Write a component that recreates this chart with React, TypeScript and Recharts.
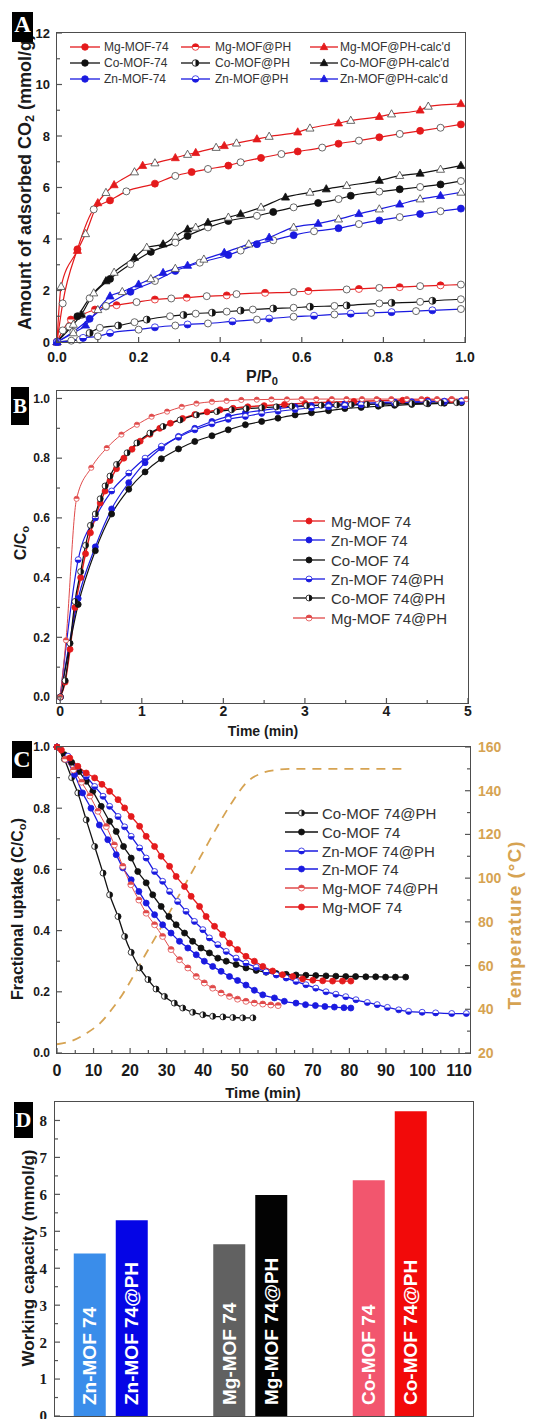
import React from 'react';
import { LineChart, Line, XAxis, YAxis, BarChart, Bar, Cell, LabelList } from 'recharts';

const SANS = '"Liberation Sans", Arial, sans-serif';
const SERIF = '"Liberation Serif", "Times New Roman", serif';
const RED = '#e41a1c';
const LIGHTRED = '#e04a4a';
const BLUE = '#1a1ae0';
const BLACK = '#111111';
const ORANGE = '#d6a352';

// ---------- A: CO2 isotherms, P/P0 vs mmol/g
const aMgP = [0, 0.014, 0.05, 0.09, 0.13, 0.17, 0.24, 0.29, 0.33, 0.37, 0.42, 0.45, 0.5, 0.55, 0.59, 0.65, 0.69, 0.74, 0.79, 0.84, 0.89, 0.94, 0.99];
const aMgV = [0, 1.5, 3.6, 5.15, 5.5, 5.85, 6.15, 6.45, 6.6, 6.72, 6.85, 6.98, 7.15, 7.3, 7.4, 7.55, 7.7, 7.82, 7.95, 8.08, 8.2, 8.32, 8.45];
const aMgPhP = [0, 0.014, 0.034, 0.06, 0.093, 0.12, 0.146, 0.195, 0.24, 0.28, 0.318, 0.367, 0.416, 0.44, 0.51, 0.58, 0.616, 0.71, 0.74, 0.79, 0.84, 0.89, 0.94, 0.99];
const aMgPhV = [0, 0.45, 0.87, 1.05, 1.26, 1.38, 1.43, 1.55, 1.65, 1.69, 1.72, 1.78, 1.81, 1.86, 1.91, 1.94, 1.98, 2.04, 2.06, 2.1, 2.13, 2.17, 2.2, 2.23];
const aMgCalcP = [0, 0.01, 0.05, 0.07, 0.1, 0.12, 0.14, 0.19, 0.21, 0.24, 0.29, 0.32, 0.34, 0.39, 0.41, 0.44, 0.49, 0.52, 0.59, 0.62, 0.69, 0.72, 0.79, 0.82, 0.89, 0.91, 0.99];
const aMgCalcV = [0, 2.15, 3.55, 4.2, 5.4, 5.8, 6.1, 6.6, 6.85, 6.95, 7.15, 7.28, 7.35, 7.55, 7.62, 7.72, 7.88, 7.98, 8.15, 8.3, 8.5, 8.6, 8.75, 8.85, 9.0, 9.15, 9.25];
const aCoP = [0, 0.03, 0.05, 0.08, 0.13, 0.18, 0.23, 0.29, 0.32, 0.37, 0.42, 0.49, 0.53, 0.58, 0.64, 0.69, 0.72, 0.79, 0.84, 0.89, 0.94, 0.99];
const aCoV = [0, 0.6, 1.0, 1.7, 2.45, 3.02, 3.5, 3.86, 4.12, 4.45, 4.7, 4.9, 5.05, 5.23, 5.4, 5.55, 5.68, 5.84, 5.93, 6.02, 6.12, 6.25];
const aCoPhP = [0, 0.056, 0.08, 0.105, 0.15, 0.19, 0.22, 0.277, 0.31, 0.34, 0.38, 0.416, 0.45, 0.48, 0.53, 0.58, 0.62, 0.68, 0.71, 0.79, 0.82, 0.89, 0.92, 0.99];
const aCoPhV = [0, 0.09, 0.35, 0.55, 0.64, 0.77, 0.87, 1.0, 1.05, 1.1, 1.14, 1.18, 1.22, 1.26, 1.3, 1.33, 1.37, 1.4, 1.42, 1.5, 1.52, 1.56, 1.6, 1.66];
const aCoCalcP = [0, 0.04, 0.06, 0.09, 0.12, 0.14, 0.19, 0.22, 0.26, 0.29, 0.32, 0.34, 0.37, 0.42, 0.45, 0.5, 0.56, 0.62, 0.66, 0.71, 0.79, 0.84, 0.89, 0.94, 0.99];
const aCoCalcV = [0, 0.68, 1.07, 1.9, 2.37, 2.7, 3.28, 3.67, 3.8, 4.1, 4.38, 4.45, 4.64, 4.84, 4.97, 5.23, 5.62, 5.81, 5.94, 6.07, 6.27, 6.46, 6.55, 6.7, 6.85];
const aZnP = [0, 0.04, 0.08, 0.12, 0.18, 0.24, 0.29, 0.35, 0.42, 0.45, 0.49, 0.53, 0.58, 0.63, 0.69, 0.74, 0.79, 0.84, 0.89, 0.94, 0.99];
const aZnV = [0, 0.4, 0.9, 1.4, 1.95, 2.37, 2.76, 3.08, 3.38, 3.55, 3.8, 3.95, 4.15, 4.3, 4.42, 4.58, 4.72, 4.85, 4.97, 5.08, 5.18];
const aZnPhP = [0, 0.035, 0.064, 0.1, 0.13, 0.2, 0.24, 0.29, 0.32, 0.37, 0.43, 0.49, 0.52, 0.58, 0.63, 0.68, 0.72, 0.77, 0.82, 0.88, 0.92, 0.99];
const aZnPhV = [0, 0.05, 0.16, 0.22, 0.35, 0.48, 0.57, 0.64, 0.68, 0.72, 0.8, 0.87, 0.91, 0.98, 1.02, 1.07, 1.1, 1.13, 1.16, 1.2, 1.23, 1.28];
const aZnCalcP = [0, 0.04, 0.07, 0.1, 0.13, 0.16, 0.2, 0.23, 0.26, 0.29, 0.32, 0.36, 0.41, 0.47, 0.52, 0.58, 0.64, 0.69, 0.74, 0.79, 0.84, 0.89, 0.94, 0.99];
const aZnCalcV = [0, 0.35, 0.65, 1.25, 1.78, 1.95, 2.24, 2.45, 2.69, 2.85, 2.97, 3.21, 3.47, 3.8, 4.06, 4.45, 4.6, 4.77, 4.98, 5.16, 5.35, 5.55, 5.68, 5.81];
const aXTicks = [0, 0.1, 0.2, 0.3, 0.4, 0.5, 0.6, 0.7, 0.8, 0.9, 1.0];
const aXMajor = [0, 0.2, 0.4, 0.6, 0.8, 1.0];
const aYTicks = [0, 1, 2, 3, 4, 5, 6, 7, 8, 9, 10, 11, 12];
const aYMajor = [0, 2, 4, 6, 8, 10, 12];

// ---------- B: breakthrough, time (min) vs C/Co
const bT = [0, 0.22, 0.43, 0.63, 0.84, 1.04, 1.24, 1.45, 1.65, 1.86, 2.06, 2.27, 2.47, 2.67, 2.88, 3.08, 3.29, 3.49, 3.69, 3.9, 4.1, 4.31, 4.51, 4.71, 4.92];
const bCoV = [0, 0.31, 0.49, 0.613, 0.696, 0.754, 0.798, 0.831, 0.856, 0.875, 0.895, 0.912, 0.923, 0.934, 0.945, 0.952, 0.959, 0.966, 0.97, 0.974, 0.977, 0.98, 0.982, 0.984, 0.986];
const bZnV = [0, 0.33, 0.503, 0.63, 0.718, 0.785, 0.834, 0.873, 0.9, 0.923, 0.94, 0.952, 0.96, 0.967, 0.972, 0.976, 0.979, 0.982, 0.984, 0.986, 0.988, 0.989, 0.99, 0.991, 0.992];
const bZnPhV = [0, 0.46, 0.6, 0.69, 0.75, 0.8, 0.84, 0.87, 0.895, 0.915, 0.93, 0.94, 0.95, 0.957, 0.963, 0.968, 0.972, 0.976, 0.979, 0.982, 0.984, 0.986, 0.988, 0.989, 0.99];
const bMgPhT = [0, 0.07, 0.2, 0.38, 0.57, 0.75, 0.94, 1.12, 1.31, 1.49, 1.67, 1.86, 2.04, 2.22, 2.41, 2.59, 2.78, 2.96, 3.14, 3.33, 3.51, 3.7, 3.88, 4.06, 4.25, 4.43, 4.62, 4.8, 4.98];
const bMgPhV = [0, 0.19, 0.664, 0.768, 0.834, 0.879, 0.912, 0.939, 0.956, 0.972, 0.983, 0.989, 0.992, 0.995, 0.996, 0.997, 0.997, 0.998, 0.998, 0.998, 0.998, 0.998, 0.998, 0.998, 0.998, 0.998, 0.998, 0.998, 0.998];
const bCoPhT = [0, 0.06, 0.12, 0.18, 0.25, 0.31, 0.37, 0.43, 0.49, 0.55, 0.61, 0.69, 0.82, 0.94, 1.1, 1.26, 1.47, 1.67, 1.92, 2.1, 2.28, 2.47, 2.65, 2.84, 3.02, 3.2, 3.39, 3.57, 3.76, 3.94, 4.12, 4.31, 4.49, 4.67, 4.86];
const bCoPhV = [0, 0.055, 0.18, 0.32, 0.42, 0.508, 0.575, 0.613, 0.664, 0.707, 0.74, 0.779, 0.818, 0.851, 0.884, 0.906, 0.928, 0.945, 0.956, 0.962, 0.966, 0.969, 0.972, 0.974, 0.976, 0.977, 0.978, 0.979, 0.98, 0.981, 0.982, 0.983, 0.984, 0.985, 0.986];
const bMgT = [0, 0.06, 0.12, 0.18, 0.25, 0.31, 0.37, 0.43, 0.49, 0.55, 0.61, 0.69, 0.78, 0.88, 0.98, 1.1, 1.22, 1.35, 1.5, 1.65, 1.8, 1.96, 2.12, 2.3, 2.5, 2.75, 3.0, 3.3, 3.6, 3.9, 4.2, 4.5, 4.8];
const bMgV = [0, 0.05, 0.16, 0.3, 0.4, 0.48, 0.55, 0.6, 0.65, 0.69, 0.725, 0.765, 0.8, 0.83, 0.857, 0.88, 0.9, 0.917, 0.933, 0.946, 0.955, 0.962, 0.967, 0.972, 0.976, 0.98, 0.984, 0.987, 0.99, 0.992, 0.994, 0.995, 0.996];
const bXTicks = [0, 0.5, 1, 1.5, 2, 2.5, 3, 3.5, 4, 4.5, 5];
const bXMajor = [0, 1, 2, 3, 4, 5];
const bYTicks = [0, 0.1, 0.2, 0.3, 0.4, 0.5, 0.6, 0.7, 0.8, 0.9, 1.0];
const bYMajor = [0, 0.2, 0.4, 0.6, 0.8, 1.0];

// ---------- C: desorption, time (min) vs fractional uptake, temperature on right
const cCoPhT = [0, 2, 4, 5.7, 8, 10.3, 12.6, 14.4, 16.7, 18.5, 20.3, 22.6, 24.9, 27.1, 29.4, 32.1, 34.4, 37.1, 39.9, 42.6, 45.4, 48.1, 50.8, 53.6];
const cCoPhV = [1.0, 0.96, 0.9, 0.85, 0.762, 0.675, 0.588, 0.517, 0.446, 0.381, 0.329, 0.278, 0.24, 0.209, 0.185, 0.163, 0.147, 0.133, 0.125, 0.12, 0.118, 0.116, 0.115, 0.115];
const cCoT = [0, 2, 4, 6, 8, 9.8, 12.1, 14.4, 16.2, 18.2, 20.3, 22.1, 24.4, 26.2, 28.5, 30.6, 32.6, 34.9, 37.1, 39.4, 41.7, 44, 46.3, 49, 51.7, 54.5, 57.2, 60, 62.7, 65.4, 68.1, 70.8, 73.6, 76.3, 79, 81.7, 84.5, 87.2, 89.9, 92.6, 95.4];
const cCoV = [1.0, 0.975, 0.95, 0.92, 0.888, 0.855, 0.806, 0.757, 0.724, 0.675, 0.637, 0.593, 0.556, 0.517, 0.479, 0.446, 0.419, 0.392, 0.365, 0.343, 0.327, 0.31, 0.3, 0.289, 0.278, 0.27, 0.264, 0.26, 0.257, 0.255, 0.254, 0.253, 0.252, 0.251, 0.25, 0.25, 0.249, 0.249, 0.248, 0.248, 0.248];
const cZnPhT = [0, 3, 5.5, 8, 10.3, 12.6, 14.4, 16.7, 18.5, 20.3, 22.6, 24.4, 26.7, 28.9, 30.8, 33, 35.3, 37.6, 39.9, 41.7, 44, 46.3, 49, 51.7, 54.5, 57.2, 60, 62.7, 65.4, 68.1, 70.8, 73.6, 76.3, 79, 81.8, 84.9, 87.6, 90.4, 93.5, 96.2, 99.9, 103.6, 108, 112];
const cZnPhV = [1.0, 0.97, 0.935, 0.904, 0.871, 0.839, 0.806, 0.773, 0.739, 0.708, 0.67, 0.637, 0.593, 0.561, 0.528, 0.495, 0.463, 0.43, 0.403, 0.376, 0.354, 0.332, 0.31, 0.294, 0.28, 0.265, 0.255, 0.245, 0.234, 0.223, 0.212, 0.2, 0.192, 0.184, 0.174, 0.165, 0.158, 0.149, 0.141, 0.136, 0.133, 0.131, 0.129, 0.129];
const cZnT = [0, 2.5, 4.8, 7, 9.3, 11.6, 13.9, 16.2, 18, 20.3, 22.4, 24.4, 26.7, 28.9, 31.2, 33.5, 35.8, 38.1, 40.3, 42.6, 44.9, 47.2, 49.4, 51.7, 54, 56.3, 59.5, 62.2, 65.4, 68, 70.7, 73.3, 75.9, 78.5, 80.4];
const cZnV = [1.0, 0.96, 0.91, 0.85, 0.8, 0.745, 0.697, 0.648, 0.605, 0.566, 0.528, 0.49, 0.452, 0.419, 0.392, 0.365, 0.343, 0.321, 0.3, 0.283, 0.267, 0.25, 0.237, 0.222, 0.205, 0.19, 0.18, 0.169, 0.163, 0.158, 0.155, 0.152, 0.15, 0.148, 0.147];
const cMgPhT = [0, 2.2, 4.5, 6.7, 9, 11.2, 13.5, 15.7, 18, 20.2, 22.4, 24.4, 26.7, 28.9, 31.2, 33.5, 35.8, 38.1, 40.3, 42.6, 44.9, 47.2, 49.4, 51.7, 54, 56.3, 58.5, 60.5];
const cMgPhV = [1.0, 0.96, 0.925, 0.885, 0.84, 0.79, 0.74, 0.68, 0.61, 0.55, 0.5, 0.457, 0.419, 0.381, 0.338, 0.305, 0.278, 0.25, 0.229, 0.212, 0.196, 0.185, 0.176, 0.169, 0.163, 0.16, 0.157, 0.155];
const cMgT = [0, 1.2, 3.5, 5.7, 8, 10.3, 12.3, 14.4, 16.7, 18.5, 20.3, 22.6, 24.4, 26.7, 28.5, 30.8, 32.6, 34.9, 36.7, 39, 40.8, 43.1, 45.3, 47.2, 49.4, 51.7, 54, 56.3, 59, 61.7, 64.5, 67.2, 70, 72.7, 75.4, 78.1, 80.4];
const cMgV = [1.0, 0.99, 0.964, 0.937, 0.915, 0.899, 0.878, 0.855, 0.828, 0.801, 0.773, 0.741, 0.708, 0.675, 0.643, 0.61, 0.577, 0.544, 0.512, 0.479, 0.446, 0.414, 0.387, 0.359, 0.338, 0.316, 0.3, 0.283, 0.268, 0.256, 0.25, 0.242, 0.238, 0.236, 0.235, 0.235, 0.235];
const cTempT = [0, 4, 8, 12, 15, 18, 21, 24, 28, 32, 36, 40, 44, 48, 52, 56, 60, 64, 70, 80, 90, 95];
const cTempV = [24, 25.5, 29, 34, 40, 47, 55.5, 64.5, 76, 88, 100, 112, 124, 135, 144, 148, 149.5, 150, 150, 150, 150, 150];
const cXTicks = [0, 5, 10, 15, 20, 25, 30, 35, 40, 45, 50, 55, 60, 65, 70, 75, 80, 85, 90, 95, 100, 105, 110];
const cXMajor = [0, 10, 20, 30, 40, 50, 60, 70, 80, 90, 100, 110];
const cYTicks = [0, 0.1, 0.2, 0.3, 0.4, 0.5, 0.6, 0.7, 0.8, 0.9, 1.0];
const cYMajor = [0, 0.2, 0.4, 0.6, 0.8, 1.0];
const cRTicks = [20, 30, 40, 50, 60, 70, 80, 90, 100, 110, 120, 130, 140, 150, 160];
const cRMajor = [20, 40, 60, 80, 100, 120, 140, 160];

// ---------- D: working capacity
const dMetals = ['Zn', 'Mg', 'Co'];
const dMofNames = ['Zn-MOF 74', 'Mg-MOF 74', 'Co-MOF 74'];
const dPhNames = ['Zn-MOF 74@PH', 'Mg-MOF 74@PH', 'Co-MOF 74@PH'];
const dMofCapacity = [4.4, 4.65, 6.38];
const dPhCapacity = [5.3, 5.98, 8.25];
const dMofColors = ['#3a8dea', '#616161', '#f2566e'];
const dPhColors = ['#0505e6', '#030303', '#f20a0a'];
const dYTicks = [0, 0.5, 1, 1.5, 2, 2.5, 3, 3.5, 4, 4.5, 5, 5.5, 6, 6.5, 7, 7.5, 8];
const dYMajor = [0, 1, 2, 3, 4, 5, 6, 7, 8];

const pts = (xs: number[], ys: number[]) => xs.map((x, i) => ({ x, y: ys[i] }));

type Shape = 'circle' | 'tri' | 'halfTop' | 'halfRight' | 'halfBottom';

function Marker({ shape, cx, cy, r, color, open }: { shape: Shape; cx: number; cy: number; r: number; color: string; open?: boolean }) {
  const fill = open ? '#fff' : color;
  const stroke = open ? '#444' : color;
  if (shape === 'tri') {
    const p = `${cx},${cy - r * 1.25} ${cx - r * 1.15},${cy + r * 0.8} ${cx + r * 1.15},${cy + r * 0.8}`;
    return <polygon points={p} fill={fill} stroke={stroke} strokeWidth={0.8} />;
  }
  if (shape === 'circle' || open) return <circle cx={cx} cy={cy} r={r} fill={fill} stroke={stroke} strokeWidth={0.8} />;
  let d = '';
  if (shape === 'halfTop') d = `M${cx - r},${cy} A${r},${r} 0 0 1 ${cx + r},${cy} Z`;
  if (shape === 'halfRight') d = `M${cx},${cy - r} A${r},${r} 0 0 1 ${cx},${cy + r} Z`;
  if (shape === 'halfBottom') d = `M${cx + r},${cy} A${r},${r} 0 0 1 ${cx - r},${cy} Z`;
  return (
    <g>
      <circle cx={cx} cy={cy} r={r} fill="#fff" stroke={color} strokeWidth={0.8} />
      <path d={d} fill={color} />
    </g>
  );
}

const dotFn = (shape: Shape, color: string, r: number, alternate = false) => (p: any) => {
  const { cx, cy, index } = p;
  if (cx == null || cy == null) return <g key={`e${index}`} />;
  const open = alternate && index % 2 === 1;
  return <Marker key={`m${index}`} shape={shape} cx={cx} cy={cy} r={r} color={color} open={open} />;
};

type Side = 'bottom' | 'left' | 'right';
const makeTick = (side: Side, major: number[], size: number, gap: number, fmt: (v: number) => string, fill = '#1a1a1a', family = SANS) =>
  (props: any) => {
    const { x, y, payload } = props;
    const v = Number(payload.value);
    const isMajor = major.some((m) => Math.abs(m - v) < 1e-6);
    const len = isMajor ? 5 : 3;
    const tc = '#555';
    if (side === 'bottom') {
      return (
        <g>
          <line x1={x} y1={y} x2={x} y2={y - len} stroke={tc} strokeWidth={1.2} />
          {isMajor && (
            <text x={x} y={y + gap} dy="0.72em" textAnchor="middle" fontFamily={family} fontWeight="bold" fontSize={size} fill={fill}>
              {fmt(v)}
            </text>
          )}
        </g>
      );
    }
    const dir = side === 'left' ? 1 : -1;
    return (
      <g>
        <line x1={x} y1={y} x2={x + dir * len} y2={y} stroke={tc} strokeWidth={1.2} />
        {isMajor && (
          <text x={x - dir * gap} y={y} dy="0.36em" textAnchor={side === 'left' ? 'end' : 'start'} fontFamily={family} fontWeight="bold" fontSize={size} fill={fill}>
            {fmt(v)}
          </text>
        )}
      </g>
    );
  };

const Frame = ({ l, t, w, h }: { l: number; t: number; w: number; h: number }) => (
  <div style={{ position: 'absolute', left: l - 0.75, top: t - 0.75, width: w + 1.5, height: h + 1.5, border: '1.5px solid #4d4d4d', boxSizing: 'border-box' }} />
);

const VText = ({ cx, cy, size, color = '#1a1a1a', spacing = 0, children }: any) => (
  <div style={{ position: 'absolute', left: cx, top: cy, transform: 'translate(-50%, -50%) rotate(-90deg)', whiteSpace: 'nowrap', fontFamily: SANS, fontWeight: 'bold', fontSize: size, letterSpacing: spacing, color, lineHeight: 1 }}>
    {children}
  </div>
);

const HText = ({ cx, cy, size, children }: any) => (
  <div style={{ position: 'absolute', left: cx, top: cy, transform: 'translate(-50%, -50%)', whiteSpace: 'nowrap', fontFamily: SANS, fontWeight: 'bold', fontSize: size, color: '#1a1a1a', lineHeight: 1 }}>
    {children}
  </div>
);

const Tag = ({ l, t, w, h, letter, size = 22, lh }: any) => (
  <div style={{ position: 'absolute', left: l, top: t, width: w, height: h, background: '#000', color: '#fff', fontFamily: SERIF, fontWeight: 'bold', fontSize: size, lineHeight: `${lh ?? h}px`, textAlign: 'center' }}>
    {letter}
  </div>
);

const LegendItem = ({ x, y, len, tx, name, color, shape, size, r }: any) => (
  <>
    <svg style={{ position: 'absolute', left: x, top: y - 6 }} width={len} height={12}>
      <line x1={0} y1={6} x2={len} y2={6} stroke={color} strokeWidth={1.3} />
      <Marker shape={shape} cx={len / 2} cy={6} r={r} color={color} />
    </svg>
    <div style={{ position: 'absolute', left: tx, top: y, transform: 'translateY(-50%)', fontFamily: SANS, fontSize: size, lineHeight: 1, color: '#333', whiteSpace: 'nowrap' }}>{name}</div>
  </>
);

const sub = (s: string) => <sub style={{ fontSize: '0.7em', verticalAlign: '-0.25em', lineHeight: 0 }}>{s}</sub>;

// ---------- series configs
const aSeries = [
  { name: 'Mg-MOF-74', x: aMgP, v: aMgV, color: RED, shape: 'circle' as Shape },
  { name: 'Mg-MOF@PH', x: aMgPhP, v: aMgPhV, color: RED, shape: 'halfTop' as Shape },
  { name: "Mg-MOF@PH-calc'd", x: aMgCalcP, v: aMgCalcV, color: RED, shape: 'tri' as Shape },
  { name: 'Co-MOF-74', x: aCoP, v: aCoV, color: BLACK, shape: 'circle' as Shape },
  { name: 'Co-MOF@PH', x: aCoPhP, v: aCoPhV, color: BLACK, shape: 'halfRight' as Shape },
  { name: "Co-MOF@PH-calc'd", x: aCoCalcP, v: aCoCalcV, color: BLACK, shape: 'tri' as Shape },
  { name: 'Zn-MOF-74', x: aZnP, v: aZnV, color: BLUE, shape: 'circle' as Shape },
  { name: 'Zn-MOF@PH', x: aZnPhP, v: aZnPhV, color: BLUE, shape: 'halfBottom' as Shape },
  { name: "Zn-MOF@PH-calc'd", x: aZnCalcP, v: aZnCalcV, color: BLUE, shape: 'tri' as Shape },
];

const bSeries = [
  { name: 'Mg-MOF 74', x: bMgT, v: bMgV, color: RED, shape: 'circle' as Shape, r: 3, w: 1.5 },
  { name: 'Zn-MOF 74', x: bT, v: bZnV, color: BLUE, shape: 'circle' as Shape, r: 3, w: 1.2 },
  { name: 'Co-MOF 74', x: bT, v: bCoV, color: BLACK, shape: 'circle' as Shape, r: 3, w: 1.2 },
  { name: 'Zn-MOF 74@PH', x: bT, v: bZnPhV, color: BLUE, shape: 'halfBottom' as Shape, r: 3, w: 1.2 },
  { name: 'Co-MOF 74@PH', x: bCoPhT, v: bCoPhV, color: BLACK, shape: 'halfRight' as Shape, r: 3, w: 1.2 },
  { name: 'Mg-MOF 74@PH', x: bMgPhT, v: bMgPhV, color: LIGHTRED, shape: 'halfTop' as Shape, r: 2.6, w: 1 },
];

const cSeries = [
  { name: 'Co-MOF 74@PH', x: cCoPhT, v: cCoPhV, color: BLACK, shape: 'halfRight' as Shape, w: 1.3 },
  { name: 'Co-MOF 74', x: cCoT, v: cCoV, color: BLACK, shape: 'circle' as Shape, w: 1.3 },
  { name: 'Zn-MOF 74@PH', x: cZnPhT, v: cZnPhV, color: BLUE, shape: 'halfBottom' as Shape, w: 1.3 },
  { name: 'Zn-MOF 74', x: cZnT, v: cZnV, color: BLUE, shape: 'circle' as Shape, w: 1.3 },
  { name: 'Mg-MOF 74@PH', x: cMgPhT, v: cMgPhV, color: LIGHTRED, shape: 'halfTop' as Shape, w: 1 },
  { name: 'Mg-MOF 74', x: cMgT, v: cMgV, color: RED, shape: 'circle' as Shape, w: 1.3 },
];

const PanelA = () => {
  const cols = [
    { x: 70, len: 30, tx: 104 },
    { x: 181, len: 29, tx: 215 },
    { x: 310, len: 28, tx: 340 },
  ];
  const rows = [47, 63, 79];
  return (
    <>
      <div style={{ position: 'absolute', left: 0, top: 0 }}>
        <LineChart width={533} height={391} margin={{ top: 33, right: 68, bottom: 29, left: 0 }}>
          <XAxis type="number" dataKey="x" domain={[0, 1]} ticks={aXTicks} interval={0} height={20} axisLine={false} tickLine={false} tickSize={0} tickMargin={0}
            tick={makeTick('bottom', aXMajor, 14, 10, (v) => v.toFixed(1))} />
          <YAxis type="number" domain={[0, 12]} ticks={aYTicks} interval={0} width={57} axisLine={false} tickLine={false} tickSize={0} tickMargin={0}
            tick={makeTick('left', aYMajor, 13, 7, (v) => String(v))} />
          {aSeries.map((s) => (
            <Line key={s.name} data={pts(s.x, s.v)} dataKey="y" type="monotone" stroke={s.color} strokeWidth={1.2}
              dot={dotFn(s.shape, s.color, 3.5, true)} activeDot={false} isAnimationActive={false} />
          ))}
        </LineChart>
      </div>
      <Frame l={57} t={33} w={408} h={309} />
      {aSeries.map((s, i) => (
        <LegendItem key={s.name} x={cols[i % 3].x} y={rows[Math.floor(i / 3)]} len={cols[i % 3].len} tx={cols[i % 3].tx}
          name={s.name} color={s.color} shape={s.shape} size={12} r={3.3} />
      ))}
      <VText cx={25} cy={182} size={18}>Amount of adsorbed CO{sub('2')} (mmol/g)</VText>
      <HText cx={262} cy={377} size={16}>P/P{sub('0')}</HText>
      <Tag l={12} t={12} w={21} h={30} lh={25} size={23} letter="A" />
    </>
  );
};

const PanelB = () => {
  const rows = [520.7, 540.3, 559.7, 579, 598.3, 617.7];
  return (
    <>
      <div style={{ position: 'absolute', left: 0, top: 380 }}>
        <LineChart width={533} height={360} margin={{ top: 11, right: 65, bottom: 17, left: 0 }}>
          <XAxis type="number" dataKey="x" domain={[-0.04, 5]} ticks={bXTicks} interval={0} height={20} axisLine={false} tickLine={false} tickSize={0} tickMargin={0}
            tick={makeTick('bottom', bXMajor, 14, 3, (v) => String(v))} />
          <YAxis type="number" domain={[-0.02, 1.025]} ticks={bYTicks} interval={0} width={57} axisLine={false} tickLine={false} tickSize={0} tickMargin={0}
            tick={makeTick('left', bYMajor, 12, 7, (v) => v.toFixed(1))} />
          {bSeries.map((s) => (
            <Line key={s.name} data={pts(s.x, s.v)} dataKey="y" type="monotone" stroke={s.color} strokeWidth={s.w}
              dot={dotFn(s.shape, s.color, s.r)} activeDot={false} isAnimationActive={false} />
          ))}
        </LineChart>
      </div>
      <Frame l={57} t={391} w={411} h={312} />
      {bSeries.map((s, i) => (
        <LegendItem key={s.name} x={293} y={rows[i]} len={32} tx={331} name={s.name} color={s.color} shape={s.shape} size={15} r={3} />
      ))}
      <VText cx={21} cy={543} size={16}>C/C{sub('o')}</VText>
      <HText cx={263} cy={731} size={14}>Time (min)</HText>
      <Tag l={11} t={387} w={18} h={38} size={21} letter="B" />
    </>
  );
};

const PanelC = () => {
  const rows = [813.3, 831.7, 850.7, 869.3, 888.3, 907.3];
  return (
    <>
      <div style={{ position: 'absolute', left: 0, top: 740 }}>
        <LineChart width={533} height={360} margin={{ top: 7, right: 0, bottom: 27, left: 0 }}>
          <XAxis type="number" dataKey="x" domain={[0, 113]} ticks={cXTicks} interval={0} height={20} axisLine={false} tickLine={false} tickSize={0} tickMargin={0}
            tick={makeTick('bottom', cXMajor, 16, 11, (v) => String(v))} />
          <YAxis yAxisId="left" type="number" domain={[0, 1]} ticks={cYTicks} interval={0} width={57} axisLine={false} tickLine={false} tickSize={0} tickMargin={0}
            tick={makeTick('left', cYMajor, 12, 7, (v) => v.toFixed(1))} />
          <YAxis yAxisId="right" orientation="right" type="number" domain={[20, 160]} ticks={cRTicks} interval={0} width={63} axisLine={false} tickLine={false} tickSize={0} tickMargin={0}
            tick={makeTick('right', cRMajor, 14, 8, (v) => String(v), ORANGE)} />
          <Line yAxisId="right" data={pts(cTempT, cTempV)} dataKey="y" type="monotone" stroke={ORANGE} strokeWidth={1.8} strokeDasharray="9 7"
            dot={false} activeDot={false} isAnimationActive={false} />
          {cSeries.map((s) => (
            <Line key={s.name} yAxisId="left" data={pts(s.x, s.v)} dataKey="y" type="monotone" stroke={s.color} strokeWidth={s.w}
              dot={dotFn(s.shape, s.color, 3)} activeDot={false} isAnimationActive={false} />
          ))}
        </LineChart>
      </div>
      <Frame l={57} t={747} w={413} h={306} />
      {cSeries.map((s, i) => (
        <LegendItem key={s.name} x={285} y={rows[i]} len={33} tx={322} name={s.name} color={s.color} shape={s.shape} size={15} r={3} />
      ))}
      <VText cx={18} cy={909} size={16}>Fractional uptake (C/C{sub('o')})</VText>
      <VText cx={514} cy={925} size={19} spacing={1} color={ORANGE}>Temperature (°C)</VText>
      <HText cx={263} cy={1092} size={15}>Time (min)</HText>
      <Tag l={12} t={741} w={20} h={37} size={24} letter="C" />
    </>
  );
};

const barLabel = (p: any) => {
  const vb = p.viewBox ?? { x: p.x, y: p.y, width: p.width, height: p.height };
  const cx = Number(vb.x) + Number(vb.width) / 2;
  const by = Number(vb.y) + Number(vb.height) - 11;
  return (
    <text key={`l${p.index}`} x={cx} y={by} transform={`rotate(-90 ${cx} ${by})`} textAnchor="start" dominantBaseline="central"
      fill="#fff" fontFamily={SANS} fontWeight="bold" fontSize={19}>
      {p.value}
    </text>
  );
};

const PanelD = () => {
  const data = dMetals.map((m, i) => ({ metal: m, mof: dMofCapacity[i], ph: dPhCapacity[i], mofName: dMofNames[i], phName: dPhNames[i] }));
  return (
    <>
      <div style={{ position: 'absolute', left: 0, top: 1095 }}>
        <BarChart width={533} height={324} data={data} margin={{ top: 7, right: 60, bottom: 3, left: 0 }} barGap={10}>
          <XAxis dataKey="metal" hide padding={{ left: -14.25, right: 13.75 }} />
          <YAxis type="number" domain={[0, 8.5]} ticks={dYTicks} interval={0} width={55} axisLine={false} tickLine={false} tickSize={0} tickMargin={0}
            tick={makeTick('left', dYMajor, 15, 8, (v) => String(v), '#1a1a1a', SERIF)} />
          <Bar dataKey="mof" barSize={32} isAnimationActive={false}>
            {dMofColors.map((c, i) => <Cell key={i} fill={c} />)}
            <LabelList dataKey="mofName" content={barLabel} />
          </Bar>
          <Bar dataKey="ph" barSize={32} isAnimationActive={false}>
            {dPhColors.map((c, i) => <Cell key={i} fill={c} />)}
            <LabelList dataKey="phName" content={barLabel} />
          </Bar>
        </BarChart>
      </div>
      <Frame l={55} t={1102} w={418} h={314} />
      <VText cx={28} cy={1258} size={17}>Working capacity (mmol/g)</VText>
      <Tag l={14} t={1102} w={19} h={36} size={22} letter="D" />
    </>
  );
};

export default function App() {
  return (
    <div style={{ position: 'absolute', left: 0, top: 0, width: 533, height: 1419, background: '#fff', overflow: 'hidden' }}>
      <PanelA />
      <PanelB />
      <PanelC />
      <PanelD />
    </div>
  );
}
